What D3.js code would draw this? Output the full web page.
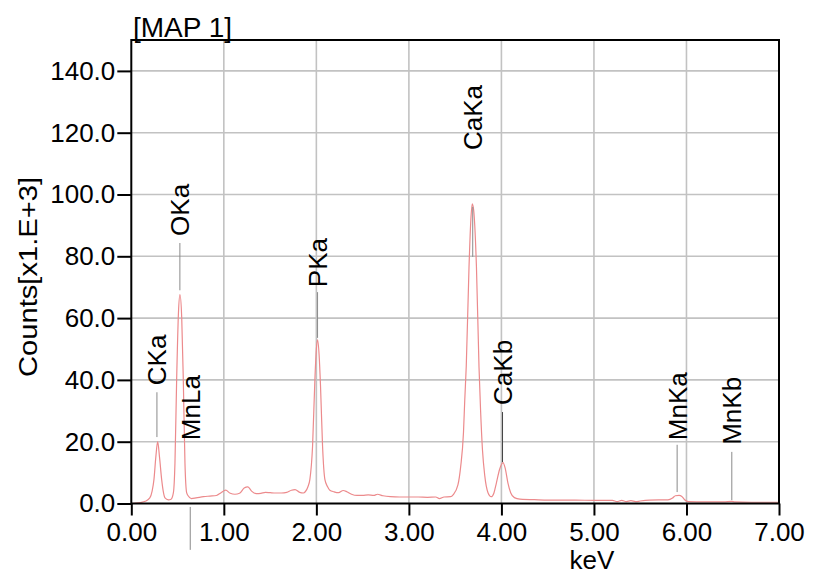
<!DOCTYPE html>
<html><head><meta charset="utf-8">
<script src="https://cdn.jsdelivr.net/npm/d3@7"></script>
<style>
html,body{margin:0;padding:0;background:#fff;}
text{font-family:"Liberation Sans",Arial,sans-serif;fill:#000;}
</style></head>
<body><svg id="chart" width="814" height="577"></svg>
<script>
// Spectrum (keV vs counts in thousands)
const energy = [0.00,0.05,0.10,0.15,0.20,0.225,0.245,0.265,0.285,0.305,0.328,0.345,0.364,0.40,0.43,0.455,0.472,0.49,0.51,0.526,0.545,0.562,0.58,0.598,0.614,0.65,0.70,0.78,0.85,0.92,0.97,1.02,1.07,1.12,1.17,1.22,1.26,1.30,1.35,1.40,1.45,1.50,1.56,1.62,1.68,1.73,1.77,1.82,1.86,1.88,1.91,1.93,1.959,1.984,2.00,2.013,2.03,2.045,2.067,2.092,2.12,2.146,2.19,2.24,2.29,2.33,2.38,2.44,2.50,2.56,2.62,2.66,2.72,2.80,2.90,3.00,3.10,3.20,3.29,3.33,3.38,3.45,3.48,3.53,3.56,3.59,3.604,3.62,3.65,3.67,3.685,3.70,3.73,3.758,3.775,3.795,3.82,3.855,3.89,3.92,3.946,3.98,4.017,4.04,4.07,4.10,4.14,4.20,4.40,4.60,4.80,5.00,5.20,5.25,5.30,5.35,5.40,5.45,5.50,5.60,5.70,5.80,5.85,5.88,5.92,5.95,5.98,6.02,6.20,6.40,6.49,6.52,6.70,7.00];
const counts = [0.0,0.1,0.3,0.7,1.8,4,7.8,15,20,15,7.8,4,1.8,1.2,1.4,3.5,13.2,40,62,67.6,60,40,13,3.5,2.5,1.6,1.8,2.2,2.4,2.6,3.5,4.3,3.3,3.0,3.3,5.0,5.4,4.0,3.2,3.3,3.6,3.5,3.4,3.4,3.6,4.3,4.5,3.6,3.4,3.8,5.5,7.8,18.5,40,50,53,48,38,18.5,7.8,5.5,4.3,3.8,3.5,4.2,3.8,3.0,2.6,2.6,2.8,2.6,3.0,2.5,2.2,2.1,2.1,2.1,2.0,2.1,1.6,2.1,2.2,2.9,6,12,23,33.6,44.4,76.7,92,97,95,76.7,44,30,17.5,9,3.5,2.2,3.5,6.7,11,13.2,11.5,6.7,3.5,1.9,1.4,1.2,1.1,1.1,1.0,1.0,0.6,1.0,0.6,0.9,0.6,0.8,1.1,1.2,1.2,1.8,2.5,2.6,2.3,1.2,0.6,0.5,0.5,0.7,0.5,0.4,0.4];

// Peak markers: name, line energy, label start level, marker line from/to (counts)
const markerNames  = ["CKa","OKa","MnLa","PKa","CaKa","CaKb","MnKa","MnKb"];
const markerEnergy = [0.277,0.525,0.637,2.013,3.690,4.012,5.899,6.490];
const markerLabelAt= [38.3,86.6,20.5,70.0,114.4,31.9,20.5,19.0];
const markerFrom   = [36.0,84.3,-1.1,68.4,96.0,29.6,19.0,16.7];
const markerTo     = [21.5,69.0,-15.0,53.6,79.8,13.4,3.7,1.1];

const xTicks = [0,1,2,3,4,5,6,7];
const yTicks = [0,20,40,60,80,100,120,140];

const title = "[MAP 1]";
const xTitle = "keV";
const yTitle = "Counts[x1.E+3]";

const svg = d3.select("#chart");
const L = 131.3, R = 779, T = 40, B = 503.5;
const x = d3.scaleLinear().domain([0,7]).range([L,R]);
const y = d3.scaleLinear().domain([0,150]).range([B,T]);

// grid
const grid = svg.append("g").attr("stroke","#c2c2c2").attr("stroke-width",1.6);
grid.selectAll("line.h").data(yTicks.filter(d=>d>0)).join("line")
  .attr("x1",L).attr("x2",R).attr("y1",d=>y(d)).attr("y2",d=>y(d));
grid.selectAll("line.v").data(xTicks.filter(d=>d>0&&d<7)).join("line")
  .attr("y1",T).attr("y2",B).attr("x1",d=>x(d)).attr("x2",d=>x(d));

// spectrum
const line = d3.line().x((d,i)=>x(energy[i])).y(d=>y(d)).curve(d3.curveMonotoneX);
svg.append("path").datum(counts).attr("d",line)
  .attr("fill","none").attr("stroke","#ec8a8c").attr("stroke-width",1.2);

// markers
const mk = svg.append("g");
markerNames.forEach((n,i)=>{
  const px = x(markerEnergy[i]);
  mk.append("line").attr("x1",px).attr("x2",px)
    .attr("y1",y(markerFrom[i])).attr("y2",y(markerTo[i]))
    .attr("stroke", n==="CaKb" ? "#444" : "#8a8a8a").attr("stroke-width",1);
  mk.append("text").attr("transform",`translate(${px},${y(markerLabelAt[i])}) rotate(-90)`)
    .attr("dy","0.36em").attr("font-size",26).text(n);
});

// axes
const xAxis = d3.axisBottom(x).tickValues(xTicks).tickFormat(d3.format(".2f"))
  .tickSize(12).tickSizeOuter(0).tickPadding(7);
const gx = svg.append("g").attr("transform",`translate(0,${B})`).call(xAxis);
const yAxis = d3.axisLeft(y).tickValues(yTicks).tickFormat(d3.format(".1f"))
  .tickSize(14).tickSizeOuter(0).tickPadding(2);
const gy = svg.append("g").attr("transform",`translate(${L},0)`).call(yAxis);
[gx,gy].forEach(g=>{
  g.select(".domain").remove();
  g.selectAll(".tick line").attr("stroke","#000").attr("stroke-width",2);
  g.selectAll(".tick text").attr("font-size",26).attr("font-family","Liberation Sans, Arial, sans-serif").attr("fill","#000");
});

// frame
svg.append("rect").attr("x",L).attr("y",T).attr("width",R-L).attr("height",B-T)
  .attr("fill","none").attr("stroke","#000").attr("stroke-width",2);

// titles
svg.append("text").attr("x",133).attr("y",37).attr("font-size",28).text(title);
svg.append("text").attr("x",592).attr("y",569).attr("text-anchor","middle").attr("font-size",26).text(xTitle);
svg.append("text").attr("transform","translate(28,277) rotate(-90)").attr("text-anchor","middle")
  .attr("dy","0.36em").attr("font-size",26).attr("textLength",200).attr("lengthAdjust","spacingAndGlyphs").text(yTitle);
</script></body></html>
